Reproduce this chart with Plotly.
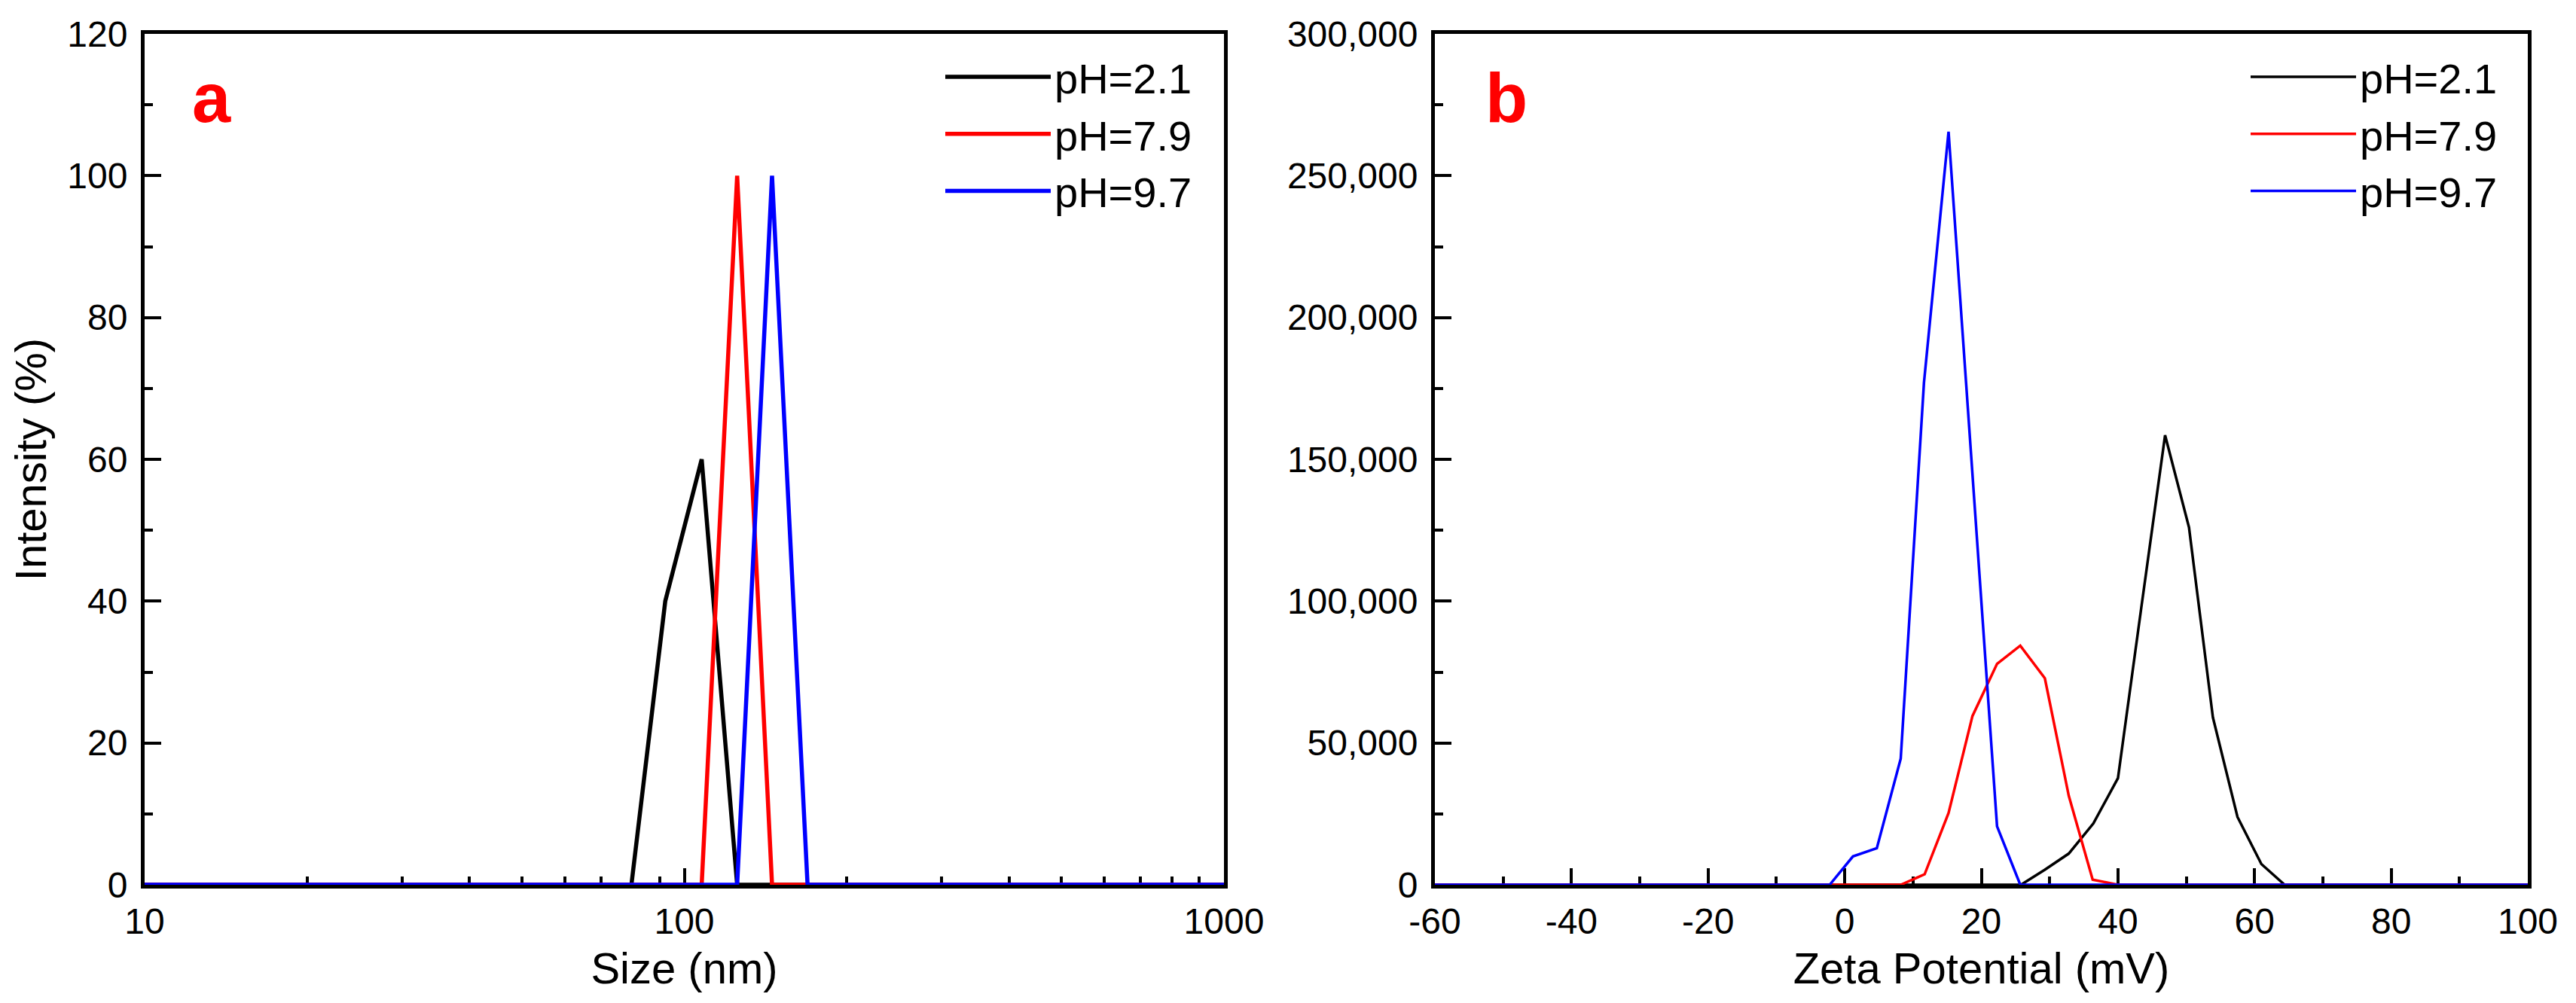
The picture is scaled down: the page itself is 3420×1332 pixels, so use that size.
import plotly.graph_objects as go

# ---------------- data ----------------
# Panel a: DLS size distribution (Intensity %)
size_21 = [10, 79.8, 92.2, 107.7, 125.3, 1000]
int_21 = [0, 0, 40, 60, 0, 0]
size_79 = [10, 107.7, 125.3, 145.4, 1000]
int_79 = [0, 0, 100, 0, 0]
size_97 = [10, 125.3, 145.4, 169.2, 1000]
int_97 = [0, 0, 100, 0, 0]

# Panel b: zeta potential distribution (counts)
zeta_21 = [-60, 25.8, 29.3, 32.8, 36.4, 40.0, 43.4, 46.9, 50.4, 53.9, 57.5, 61.0, 64.4, 100]
cnt_21 = [0, 0, 5300, 11000, 21600, 37600, 97400, 158500, 126000, 59000, 23900, 7300, 0, 0]
zeta_79 = [-60, 8.2, 11.7, 15.2, 18.7, 22.3, 25.7, 29.3, 32.8, 36.3, 40.0, 100]
cnt_79 = [0, 0, 3700, 25300, 59500, 77900, 84300, 72800, 31400, 1800, 0, 0]
zeta_97 = [-60, -2.2, 1.2, 4.7, 8.2, 11.6, 15.2, 18.7, 22.3, 25.7, 100]
cnt_97 = [0, 0, 10000, 12900, 44500, 177000, 265500, 146000, 20600, 0, 0]

labels = ["pH=2.1", "pH=7.9", "pH=9.7"]
colors = ["#000000", "#FF0000", "#0000FF"]

xa_tickvals = [10, 100, 1000]
xa_ticktext = ["10", "100", "1000"]
xa_minor = [20, 30, 40, 50, 60, 70, 80, 90, 200, 300, 400, 500, 600, 700, 800, 900]
xb_tickvals = [-60, -40, -20, 0, 20, 40, 60, 80, 100]
xb_ticktext = ["-60", "-40", "-20", "0", "20", "40", "60", "80", "100"]

FONT = "Liberation Sans, Arial, sans-serif"

fig = go.Figure()

for x, y, name, c in zip([size_21, size_79, size_97], [int_21, int_79, int_97], labels, colors):
    fig.add_trace(go.Scatter(x=x, y=y, mode="lines", name=name,
                             line=dict(color=c, width=5.5),
                             xaxis="x", yaxis="y", legend="legend"))

for x, y, name, c in zip([zeta_21, zeta_79, zeta_97], [cnt_21, cnt_79, cnt_97], labels, colors):
    fig.add_trace(go.Scatter(x=x, y=y, mode="lines", name=name,
                             line=dict(color=c, width=3.5),
                             xaxis="x2", yaxis="y2", legend="legend2"))

# page body has an 8px margin -> work in page pixels, convert to figure fractions
OFF = 8
W, H = 3420 - 2 * OFF, 1332 - 2 * OFF


def fx(px):
    return (px - OFF) / W


def fy(py):
    return (H - (py - OFF)) / H


top_px, bot_px = 45, 1175
ydom = [fy(bot_px), fy(top_px)]

axis_common = dict(
    showline=True, mirror=True, linecolor="black", linewidth=5,
    ticks="inside", ticklen=22, tickwidth=4, tickcolor="black",
    showgrid=False, zeroline=False, automargin=False,
    tickfont=dict(family=FONT, size=48, color="black"),
    layer="below traces",
)
minor_common = dict(ticks="inside", ticklen=11, tickwidth=4, tickcolor="black")
TITLE_FONT = dict(family=FONT, size=58, color="black")
LEG_FONT = dict(family=FONT, size=56, color="black")

fig.update_layout(
    width=W, height=H,
    margin=dict(l=0, r=0, t=0, b=0),
    paper_bgcolor="white", plot_bgcolor="white",
    font=dict(family=FONT, color="black"),
    xaxis=dict(
        **axis_common,
        type="log", range=[1, 3], domain=[fx(192), fx(1625)],
        tickmode="array", tickvals=xa_tickvals, ticktext=xa_ticktext,
        minor=dict(**minor_common, tickmode="array", tickvals=xa_minor),
        ticklabelstandoff=2,
        title=dict(text="Size (nm)", font=TITLE_FONT, standoff=18),
        anchor="y",
    ),
    yaxis=dict(
        **axis_common,
        range=[0, 120], dtick=20, domain=ydom,
        minor=dict(**minor_common, dtick=10),
        ticklabelstandoff=8,
        title=dict(text="Intensity (%)", font=TITLE_FONT, standoff=11),
        anchor="x",
    ),
    xaxis2=dict(
        **axis_common,
        range=[-60, 100], domain=[fx(1905), fx(3356)],
        tickmode="array", tickvals=xb_tickvals, ticktext=xb_ticktext,
        minor=dict(**minor_common, dtick=10),
        ticklabelstandoff=2,
        title=dict(text="Zeta Potential (mV)", font=TITLE_FONT, standoff=18),
        anchor="y2",
    ),
    yaxis2=dict(
        **axis_common,
        range=[0, 300000], dtick=50000, tickformat=",d", domain=ydom,
        minor=dict(**minor_common, dtick=25000),
        ticklabelstandoff=8,
        anchor="x2",
    ),
    legend=dict(
        x=fx(1250), y=fy(59), xanchor="left", yanchor="top",
        bgcolor="rgba(0,0,0,0)", borderwidth=0, font=LEG_FONT,
        itemwidth=140, tracegroupgap=0,
    ),
    legend2=dict(
        x=fx(2983), y=fy(59), xanchor="left", yanchor="top",
        bgcolor="rgba(0,0,0,0)", borderwidth=0, font=LEG_FONT,
        itemwidth=140, tracegroupgap=0,
    ),
    annotations=[
        dict(text="<b>a</b>", x=fx(281), y=fy(130), xref="paper", yref="paper",
             xanchor="center", yanchor="middle", showarrow=False,
             font=dict(family=FONT, size=92, color="#FF0000")),
        dict(text="<b>b</b>", x=fx(2000), y=fy(130), xref="paper", yref="paper",
             xanchor="center", yanchor="middle", showarrow=False,
             font=dict(family=FONT, size=92, color="#FF0000")),
    ],
)

fig.write_html("out.html")
